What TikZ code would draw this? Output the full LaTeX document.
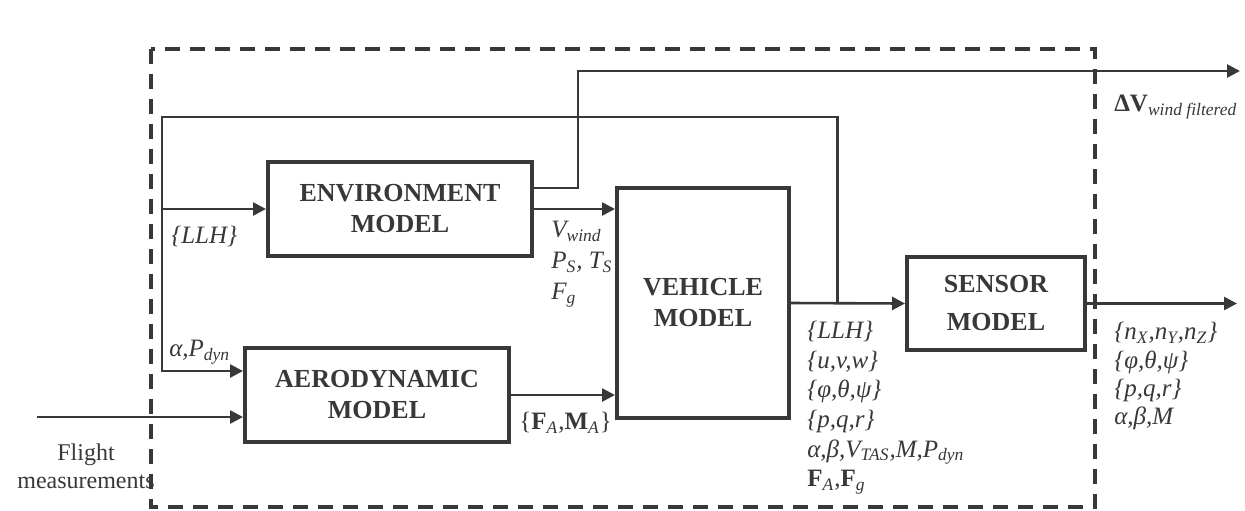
\documentclass[tikz,border=0pt]{standalone}
\usepackage{fontspec}
\setmainfont{Liberation Serif}
\usepackage{xcolor}
\usepackage{tikz}
\usetikzlibrary{arrows.meta,positioning,calc}
\definecolor{ink}{HTML}{383838}
\newcommand{\lsub}[1]{\textsubscript{\itshape #1}}

\begin{document}
\begin{tikzpicture}[x=0.5pt,y=-0.5pt,color=ink,line width=1.3pt,
   >={Triangle[length=6.5pt,width=6.5pt]},
   blk/.style={draw,line width=2pt,align=center,inner sep=0pt,
     font=\fontsize{13}{15.5}\selectfont\bfseries},
   lbl/.style={anchor=west,align=left,inner sep=0pt,
     font=\fontsize{12.5}{15}\selectfont\itshape},
   frame/.style={line width=2pt,dash pattern=on 7.5pt off 5pt}]
  \useasboundingbox (0,0) rectangle (1245,510);
  \draw[frame] (151,49) rectangle (1095,507);
  \node[blk,minimum width=132pt,minimum height=47pt] (env) at (400,209) {ENVIRONMENT\\MODEL};
  \node[blk,minimum width=86pt,minimum height=115pt] (veh) at (703,303) {VEHICLE\\MODEL};
  \node[blk,minimum width=132pt,minimum height=47pt] (aero) at (377,395) {AERODYNAMIC\\MODEL};
  \node[blk,minimum width=89pt,minimum height=46.5pt,
    font=\fontsize{13}{19}\selectfont\bfseries] (sen) at (996,303.5) {SENSOR\\MODEL};
  \coordinate (tap) at ($(veh.east)!0.41!(sen.west)$);
  \coordinate (fbl) at (162,117);
  \coordinate (wup) at (578,71);
  \coordinate (wout) at (1240,71);
  \coordinate (sout) at (1237,304);
  \coordinate (fm) at (37,417);
  \draw[->] (env.east) -- (env.east -| veh.west);
  \draw[->] (aero.east) -- (aero.east -| veh.west);
  \draw[->] (veh.east) -- (sen.west);
  \draw[->] (sen.east) -- (sen.east -| sout);
  \draw[->] ([yshift=10.5pt]env.east) -| (wup) -- (wout);
  \draw[->] (tap) |- (fbl) |- ([yshift=12pt]aero.west);
  \draw[->] (fbl |- env.west) -- (env.west);
  \draw[->] (fm) -- (fm -| aero.west);
  \node[lbl] (llh) at (170,236) {\{LLH\}};
  \node[lbl] (apd) at (168,352) {α,P\lsub{dyn}};
  \node[lbl,anchor=north west,font=\fontsize{12.5}{15.5}\selectfont\itshape] (envout) at (550,220)
    {V\lsub{wind}\\P\lsub{S}, T\lsub{S}\\F\lsub{g}};
  \node[lbl] (fama) at (518,423) {\upshape\{\textbf{F}\lsub{A},\textbf{M}\lsub{A}\}};
  \node[lbl,anchor=north west,font=\fontsize{12.5}{14.8}\selectfont\itshape] (vehout) at (806,320)
    {\{LLH\}\\\{u,v,w\}\\\{φ,θ,ψ\}\\\{p,q,r\}\\α,β,V\lsub{TAS},M,P\lsub{dyn}\\
     \upshape\textbf{F}\lsub{A},\textbf{F}\lsub{g}};
  \node[lbl,anchor=north west,font=\fontsize{12.5}{14.2}\selectfont\itshape] (senout) at (1113,321)
    {\{n\lsub{X},n\lsub{Y},n\lsub{Z}\}\\\{φ,θ,ψ\}\\\{p,q,r\}\\α,β,M};
  \node[lbl,font=\fontsize{12.5}{15}\selectfont] (dvw) at (1113,107) {\textbf{ΔV}\lsub{wind filtered}};
  \node[align=center,inner sep=0pt,font=\fontsize{12}{14}\selectfont] (fmtxt) at (86,466)
    {Flight\\measurements};
\end{tikzpicture}
\end{document}
